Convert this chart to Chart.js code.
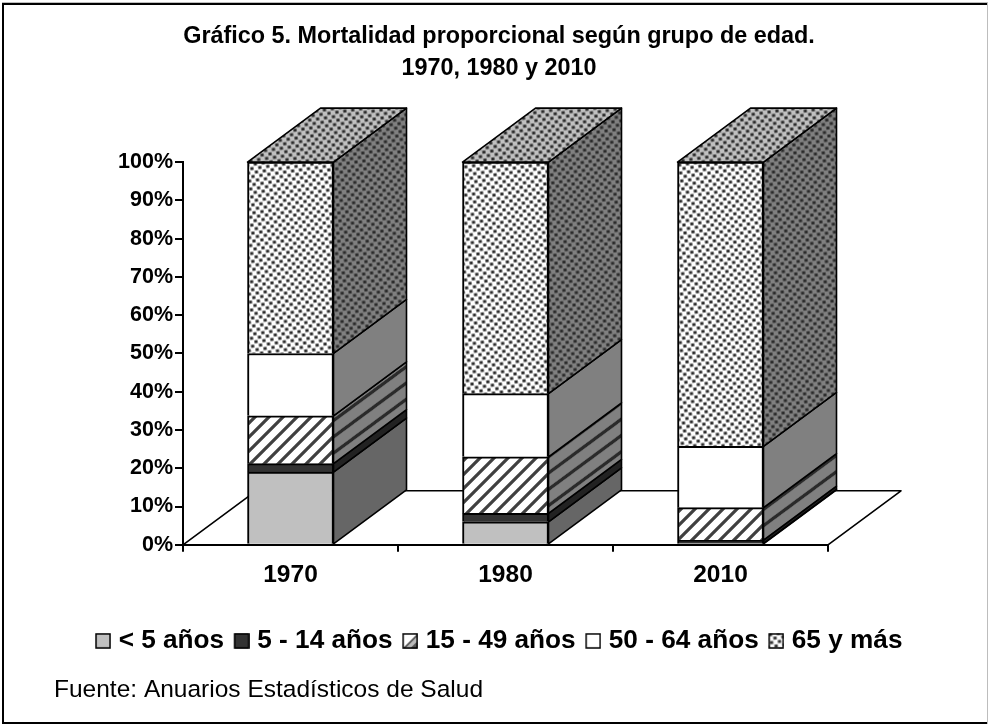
<!DOCTYPE html>
<html>
<head>
<meta charset="utf-8">
<title>Mortalidad proporcional</title>
<script src="https://cdn.jsdelivr.net/npm/chart.js@4"></script>
<style>
  html, body { margin: 0; padding: 0; background: #fff; }
  #wrap { width: 988px; height: 725px; }
</style>
</head>
<body>
<div id="wrap"><canvas id="chart" width="988" height="725"></canvas></div>
<script>
const years = ['1970', '1980', '2010'];
const menor5 = [19, 6, 0.4];
const de5a14 = [2.2, 2.2, 0.8];
const de15a49 = [12.5, 14.8, 8.5];
const de50a64 = [16.3, 16.5, 16];
const mas65 = [50, 60.5, 74.3];

const seriesNames = ['< 5 años', '5 - 14 años', '15 - 49 años', '50 - 64 años', '65 y más'];
const seriesValues = [menor5, de5a14, de15a49, de50a64, mas65];
const sourceNote = 'Fuente: Anuarios Estadísticos de Salud';

const FONT = '"Liberation Sans", Arial, sans-serif';
const DEPTH_X = 73, DEPTH_Y = -54;

function makeTile(size, draw) {
  const c = document.createElement('canvas');
  c.width = c.height = size;
  draw(c.getContext('2d'), size);
  return c;
}

function toPattern(tile) {
  return document.createElement('canvas').getContext('2d').createPattern(tile, 'repeat');
}

function dots(bg) {
  const tile = makeTile(8, (g, s) => {
    g.fillStyle = bg;
    g.fillRect(0, 0, s, s);
    g.fillStyle = '#2a2a2a';
    g.fillRect(0.4, 0.5, 3.2, 3);
    g.fillRect(4.4, 4.5, 3.2, 3);
  });
  const p = toPattern(tile);
  p.setTransform(new DOMMatrix().rotate(-8));
  return p;
}

function hatch(bg, fg, size, width, squash) {
  const tile = makeTile(size, (g, s) => {
    g.fillStyle = bg;
    g.fillRect(0, 0, s, s);
    g.strokeStyle = fg;
    g.lineWidth = width;
    // three segments so the stripe joins across tile corners
    g.beginPath();
    g.moveTo(-s, s); g.lineTo(s, -s);
    g.moveTo(0, s); g.lineTo(s, 0);
    g.moveTo(0, 2 * s); g.lineTo(2 * s, 0);
    g.stroke();
  });
  const p = toPattern(tile);
  if (squash) p.setTransform(new DOMMatrix().scale(1, squash));
  return p;
}

const frontFill = ['#c0c0c0', '#333333', hatch('#ffffff', '#404040', 14, 3.2), '#ffffff', dots('#ffffff')];
const sideFill = ['#666666', '#222222', hatch('#808080', '#2a2a2a', 22, 3.8, 54 / 73), '#808080', dots('#808080')];
const topFill = dots('#c0c0c0');

// legend swatches, handed to the legend as point style images;
// the clear strip on the left nudges the box into place beside its label
const swatches = frontFill.map((fill, i) => {
  const c = document.createElement('canvas');
  c.width = 21;
  c.height = 16;
  const g = c.getContext('2d');
  g.translate(5, 0);
  g.fillStyle = fill;
  g.fillRect(0.5, 0.5, 15, 15);
  if (i === 2) {  // the reference swatch shows a single diagonal band
    g.fillStyle = '#fff';
    g.fillRect(0.5, 0.5, 15, 15);
    g.fillStyle = '#555';
    g.beginPath();
    g.moveTo(15.5, 0.5); g.lineTo(15.5, 15.5); g.lineTo(0.5, 15.5);
    g.closePath();
    g.fill();
    g.fillStyle = '#bbb';
    g.beginPath();
    g.moveTo(15.5, 3); g.lineTo(15.5, 8); g.lineTo(8, 15.5); g.lineTo(3, 15.5);
    g.closePath();
    g.fill();
  }
  g.strokeStyle = '#000';
  g.lineWidth = 1.5;
  g.strokeRect(1, 1, 14, 14);
  return c;
});

const depthPlugin = {
  id: 'depth',
  beforeDraw(chart) {
    const { ctx, width, height } = chart;
    ctx.save();
    ctx.fillStyle = '#fff';
    ctx.fillRect(0, 0, width, height);
    ctx.fillStyle = '#bdbdbd';
    ctx.fillRect(987, 2, 1, 722);
    ctx.fillRect(2, 2, 985, 1);
    ctx.fillStyle = '#000';
    ctx.fillRect(2, 3, 985, 2);
    ctx.fillRect(2, 3, 2, 721);
    ctx.fillRect(2, 722, 985, 2);
    ctx.restore();
  },
  // floor and bar sides sit behind the library's front faces
  beforeDatasetsDraw(chart) {
    const { ctx, chartArea: a } = chart;
    ctx.save();
    ctx.strokeStyle = '#000';
    ctx.lineWidth = 1.6;
    ctx.lineJoin = 'round';

    ctx.fillStyle = '#fff';
    ctx.beginPath();
    ctx.moveTo(a.left, a.bottom);
    ctx.lineTo(a.left + DEPTH_X, a.bottom + DEPTH_Y);
    ctx.lineTo(a.right + DEPTH_X, a.bottom + DEPTH_Y);
    ctx.lineTo(a.right, a.bottom);
    ctx.closePath();
    ctx.fill();
    ctx.stroke();

    chart.data.datasets.forEach((ds, i) => {
      chart.getDatasetMeta(i).data.forEach((bar) => {
        const right = bar.x + bar.width / 2;
        ctx.fillStyle = sideFill[i];
        ctx.beginPath();
        ctx.moveTo(right, bar.y);
        ctx.lineTo(right + DEPTH_X, bar.y + DEPTH_Y);
        ctx.lineTo(right + DEPTH_X, bar.base + DEPTH_Y);
        ctx.lineTo(right, bar.base);
        ctx.closePath();
        ctx.fill();
        ctx.stroke();
        if (i === seriesValues.length - 1) {
          const left = bar.x - bar.width / 2;
          ctx.fillStyle = topFill;
          ctx.beginPath();
          ctx.moveTo(left, bar.y);
          ctx.lineTo(left + DEPTH_X, bar.y + DEPTH_Y);
          ctx.lineTo(right + DEPTH_X, bar.y + DEPTH_Y);
          ctx.lineTo(right, bar.y);
          ctx.closePath();
          ctx.fill();
          ctx.stroke();
        }
      });
    });
    ctx.restore();
  },
  afterDraw(chart) {
    const { ctx } = chart;
    ctx.save();
    ctx.fillStyle = '#000';
    ctx.font = '24.5px ' + FONT;
    ctx.textBaseline = 'alphabetic';
    ctx.fillText(sourceNote, 54, 697);
    ctx.restore();
  }
};

new Chart(document.getElementById('chart'), {
  type: 'bar',
  data: {
    labels: years,
    datasets: seriesNames.map((name, i) => ({
      label: name,
      data: seriesValues[i],
      backgroundColor: frontFill[i],
      borderColor: '#000',
      borderWidth: { top: 2, left: 2, right: 2, bottom: 0 },
      borderSkipped: false,
      barThickness: 86
    }))
  },
  plugins: [depthPlugin],
  options: {
    responsive: false,
    animation: false,
    layout: { padding: { left: 10, right: 0, top: 20.5, bottom: 61 } },
    plugins: {
      tooltip: { enabled: false },
      title: {
        display: true,
        text: ['Gráfico 5. Mortalidad proporcional según grupo de edad.', '1970, 1980 y 2010'],
        color: '#000',
        font: { family: FONT, size: 23.4, weight: 'bold', lineHeight: 1.37 },
        padding: { top: 0, bottom: 77.5 }
      },
      legend: {
        position: 'bottom',
        labels: {
          usePointStyle: true,
          pointStyleWidth: 10,
          boxHeight: 15,
          padding: 10,
          color: '#000',
          font: { family: FONT, size: 26.2, weight: 'bold' },
          generateLabels(chart) {
            const items = Chart.defaults.plugins.legend.labels.generateLabels(chart);
            items.forEach((item, i) => { item.pointStyle = swatches[i]; });
            return items;
          }
        }
      }
    },
    scales: {
      x: {
        stacked: true,
        afterFit(scale) { scale.height = 73; },
        border: { color: '#000', width: 2 },
        grid: { offset: true, drawOnChartArea: false, color: '#000', tickLength: 7, lineWidth: 2 },
        ticks: { color: '#000', padding: 9, font: { family: FONT, size: 24.5, weight: 'bold' } }
      },
      y: {
        stacked: true,
        min: 0,
        max: 100,
        afterFit(scale) { scale.width = 173; },
        border: { color: '#000', width: 2 },
        grid: { drawOnChartArea: false, color: '#000', tickLength: 8, lineWidth: 2 },
        ticks: {
          stepSize: 10,
          color: '#000',
          padding: 2,
          font: { family: FONT, size: 21.5, weight: 'bold' },
          callback: (v) => v + '%'
        }
      },
      // empty right axis only keeps the plot clear of the 3D depth,
      // so title and legend still centre on the whole page
      spacer: {
        position: 'right',
        afterFit(scale) { scale.width = 160; },
        border: { display: false },
        grid: { display: false },
        ticks: { display: false }
      }
    }
  }
});
</script>
</body>
</html>
